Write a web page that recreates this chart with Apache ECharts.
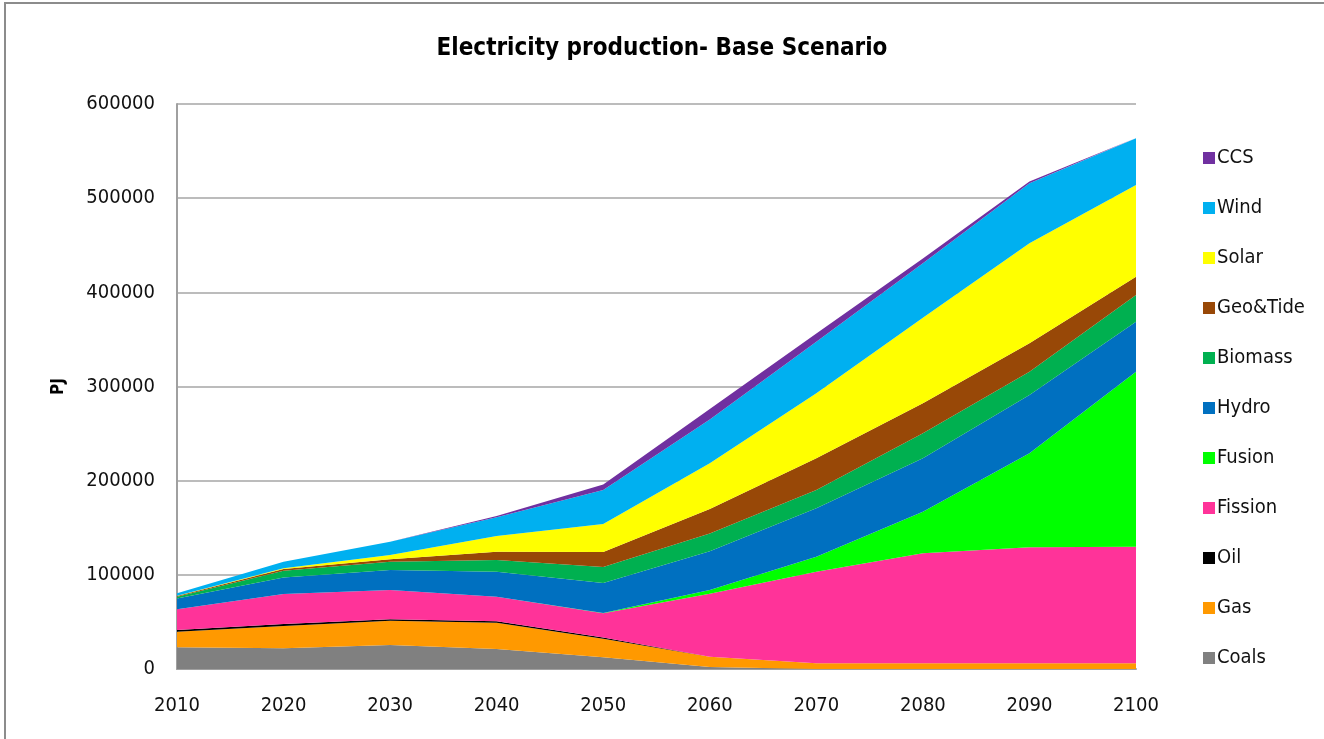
<!DOCTYPE html>
<html>
<head>
<meta charset="UTF-8">
<title>Electricity production- Base Scenario</title>
<script src="https://cdn.jsdelivr.net/npm/echarts@6/dist/echarts.min.js"></script>
<style>
  html, body { margin: 0; padding: 0; background: #fff; }
  #frame { position: absolute; left: 4px; top: 2px; width: 1330px; height: 750px; border: 2px solid #8c8c8c; box-sizing: border-box; }
  #main { position: absolute; left: 0; top: 0; width: 1324px; height: 739px; }
</style>
</head>
<body>
<div id="frame"></div>
<div id="main"></div>
<script type="text/javascript">
// years on the x axis
var years = ['2010', '2020', '2030', '2040', '2050', '2060', '2070', '2080', '2090', '2100'];

// production per source, PJ
var coals   = [23000, 22000, 25500, 21200, 12500,  2000,      0,      0,      0,      0];
var gas     = [16600, 23700, 25800, 28000, 19500, 11000,   6000,   6000,   6000,   6000];
var oil     = [ 1800,  2100,  1500,  1400,  1500,     0,      0,      0,      0,      0];
var fission = [22000, 31800, 31100, 26200, 25600, 67000,  97300, 116900, 123200, 123900];
var fusion  = [    0,     0,     0,     0,   500,  4000,  16000,  44100,  99800, 185800];
var hydro   = [11600, 17700, 21200, 26600, 31700, 41000,  51300,  56700,  62000,  53100];
var biomass = [ 1800,  7100,  8900, 12300, 17000, 19000,  19500,  26600,  24700,  28400];
var geo     = [  700,  1800,  2500,  8900, 15900, 26000,  33600,  31800,  30200,  19400];
var solar   = [  200,   700,  4500, 16600, 29800, 48400,  69100,  90900, 106100,  97400];
var wind    = [ 2700,  7100, 14200, 19900, 36100, 46600,  54800,  57800,  63800,  49500];
var ccs     = [    0,     0,     0,  1400,  5900, 11000,   8800,   5200,   2000,    500];

var yTicks = [0, 100000, 200000, 300000, 400000, 500000, 600000];

var names  = ['Coals', 'Gas', 'Oil', 'Fission', 'Fusion', 'Hydro', 'Biomass', 'Geo&Tide', 'Solar', 'Wind', 'CCS'];
var values = [coals, gas, oil, fission, fusion, hydro, biomass, geo, solar, wind, ccs];
var colors = ['#808080', '#ff9900', '#000000', '#ff3399', '#00ff00', '#0070c0', '#00b050', '#984807', '#ffff00', '#00b0f0', '#7030a0'];

var font = "'Liberation Sans Narrow', 'DejaVu Sans Condensed', 'Open Sans', sans-serif";

var series = [];
for (var i = 0; i < names.length; i++) {
  series.push({
    name: names[i],
    type: 'line',
    stack: 'total',
    data: values[i],
    symbol: 'none',
    lineStyle: { width: 0 },
    areaStyle: { color: colors[i], opacity: 1 },
    itemStyle: { color: colors[i] }
  });
}

var myChart = echarts.init(document.getElementById('main'));

var option = {
  animation: false,
  title: {
    text: 'Electricity production- Base Scenario',
    left: 'center',
    top: 32,
    textStyle: { fontFamily: font, fontSize: 24, fontWeight: 'bold', color: '#000' }
  },
  legend: {
    orient: 'vertical',
    left: 1198,
    top: 143,
    data: names.slice().reverse(),
    icon: 'rect',
    itemWidth: 12,
    itemHeight: 12,
    itemGap: 30,
    textStyle: { fontFamily: font, fontSize: 20, color: '#111', padding: [0, 0, 0, -3] }
  },
  grid: { left: 177, right: 188, top: 104, bottom: 70 },
  xAxis: {
    type: 'category',
    boundaryGap: false,
    data: years,
    axisLine: { lineStyle: { color: '#a0a0a0', width: 2 } },
    axisTick: { show: false },
    axisLabel: { fontFamily: font, fontSize: 20, color: '#111', margin: 27 }
  },
  yAxis: {
    type: 'value',
    min: 0,
    max: yTicks[yTicks.length - 1],
    interval: 100000,
    name: 'PJ',
    nameLocation: 'middle',
    nameGap: 110,
    nameRotate: 90,
    nameTextStyle: { fontFamily: font, fontSize: 17, fontWeight: 'bold', color: '#000' },
    axisLine: { show: true, lineStyle: { color: '#a0a0a0', width: 2 } },
    axisTick: { show: false },
    splitLine: { lineStyle: { color: '#a6a6a6', width: 1.5 } },
    axisLabel: {
      fontFamily: font, fontSize: 20, color: '#111', margin: 22,
      formatter: function (v) { return String(v); }
    }
  },
  series: series
};

myChart.setOption(option);
</script>
</body>
</html>
